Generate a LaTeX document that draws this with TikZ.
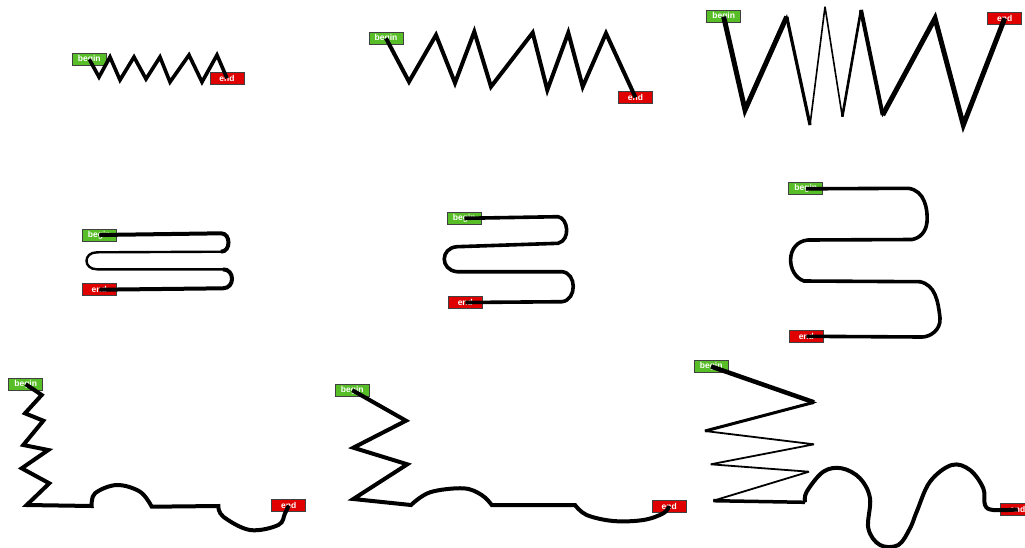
\documentclass[tikz,border=0pt]{standalone}
\usepackage{fontspec}
\setsansfont{Liberation Sans}
\definecolor{bgreen}{RGB}{88,190,40}
\definecolor{ered}{RGB}{224,0,0}
\tikzset{
 lab/.style={draw=black!75, line width=1pt, minimum width=34pt, minimum height=12pt, inner sep=0pt, text=white, font=\sffamily\bfseries\fontsize{8.5}{9}\selectfont},
 beg/.style={lab, fill=bgreen},
 fin/.style={lab, fill=ered},
 wire/.style={line width=#1, line join=miter, draw=black},
}
\begin{document}
\begin{tikzpicture}[x=1pt,y=-1pt]
\useasboundingbox (0,0) rectangle (1025,547);
% labels
\node[beg] (b1) at (89.3,59.3) {begin};
\node[fin] (e1) at (227,78.3) {end};
\node[beg] (b2) at (386,38.3) {begin};
\node[fin] (e2) at (635.5,97.5) {end};
\node[beg] (b3) at (723.7,16.7) {begin};
\node[fin] (e3) at (1004.7,18.3) {end};
\node[beg] (b4) at (99.3,235) {begin};
\node[fin] (e4) at (99.3,289.7) {end};
\node[beg] (b5) at (464.3,218.3) {begin};
\node[fin] (e5) at (465.3,302.5) {end};
\node[beg] (b6) at (805.8,188.8) {begin};
\node[fin] (e6) at (806.3,336.3) {end};
\node[beg] (b7) at (25.7,384.2) {begin};
\node[fin] (e7) at (288.7,505.5) {end};
\node[beg] (b8) at (352.3,390.2) {begin};
\node[fin] (e8) at (669.2,506) {end};
\node[beg] (b9) at (711.2,366.5) {begin};
\node[fin] (e9) at (1017.7,509.5) {end};
% panel 1
\draw[wire=3.6pt] (b1.center) -- (99,77) -- (110,57) -- (120,80) -- (134,57) -- (146,79) -- (160,57) -- (170,82) -- (189,55) -- (202,82) -- (217,55) -- (e1.center);
% panel 2
\draw[wire=4pt] (b2.center) -- (409,81.7) -- (436,35) -- (455,83) -- (474.3,31.7) -- (491,86.7) -- (532.7,32.7) -- (547.3,90) -- (568.3,32.7) -- (582.7,86.7) -- (606,33.3) -- (e2.center);
% panel 3
\coordinate (p1) at (745,110);
\coordinate (p2) at (786.7,16.7);
\coordinate (p3) at (810,125);
\coordinate (p4) at (825,6.7);
\coordinate (p5) at (842.3,116.7);
\coordinate (p6) at (861,10);
\coordinate (p7) at (882.7,115);
\coordinate (p8) at (935,18.3);
\coordinate (p9) at (963.3,125);
\draw[wire=1.6pt, miter limit=4] (b3.center) -- (p1) -- (p2) -- (p3) -- (p4) -- (p5) -- (p6) -- (p7) -- (p8) -- (p9) -- (e3.center);
\draw[wire=5pt] (b3.center) -- (p1) -- (p2);
\draw[wire=3.2pt] (p2) -- (p3);
\draw[wire=2.6pt] (p5) -- (p6);
\draw[wire=4pt] (p6) -- (p7);
\draw[wire=5pt] (p7) -- (p8) -- (p9) -- (e3.center);
% panel 4
\draw[wire=2.4pt] (b4.center) -- (221,233.3) .. controls (231,233.3) and (231,251.7) .. (221,251.7) -- (97,252.3) .. controls (83,252.3) and (83,269.3) .. (97,269.3) -- (223,269.3) .. controls (235,269.3) and (235,288.3) .. (223,288.3) -- (e4.center);
\draw[wire=4pt] (b4.center) -- (221,233.3) .. controls (231,233.3) and (231,251.7) .. (221,251.7);
\draw[wire=4pt] (223,269.3) .. controls (235,269.3) and (235,288.3) .. (223,288.3) -- (e4.center);
% panel 5
\draw[wire=3.6pt] (b5.center) -- (558,216.7) .. controls (568,218) and (571,240) .. (558,243.3) -- (457,246.7) .. controls (440,248) and (440,270) .. (457,271.7) -- (562,271.7) .. controls (577,273) and (577,300) .. (562,301.7) -- (e5.center);
% panel 6
\draw[wire=3.6pt] (b6.center) -- (908,188.3) .. controls (925,190) and (928,210) .. (927,222) .. controls (926,232) and (920,238) .. (912,239.5) -- (808,240) .. controls (785,242) and (786,275) .. (804,281) -- (920,281.7) .. controls (935,285) and (938,300) .. (940,318) .. controls (941,330) and (930,337) .. (922,337) -- (e6.center);
% panel 7
\draw[wire=4pt] (b7.center) -- (41.7,395) -- (25,413.3) -- (43.3,420.7) -- (23.3,445) -- (48.3,450) -- (21.7,468.3) -- (49.3,483.3) -- (26.7,505) -- (91.7,506)
 -- plot[smooth,tension=0.6] coordinates {(91.7,506) (95,493.3) (116.7,485) (140,491.7) (151.7,506.7)}
 -- (218.3,506)
 -- plot[smooth,tension=0.6] coordinates {(218.3,506) (223.3,516.7) (250,530) (278.3,525) (285,513.3) (e7.center)};
% panel 8
\draw[wire=4pt] (b8.center) -- (406,420.7) -- (353.3,447.7) -- (407.3,464.3) -- (353.3,499) -- (411,505)
 -- plot[smooth,tension=0.6] coordinates {(411,505) (430,492.3) (463.3,488.3) (481.7,495) (491.7,505)}
 -- (575,505)
 -- plot[smooth,tension=0.6] coordinates {(575,505) (586.7,515) (613.3,521) (643.3,520) (663.3,513.3) (e8.center)};
% panel 9
\coordinate (q1) at (814,402.3);
\coordinate (q2) at (705,431);
\coordinate (q3) at (814,444.3);
\coordinate (q4) at (710.7,464.3);
\coordinate (q5) at (809,471.7);
\coordinate (q6) at (713.3,500.7);
\coordinate (q7) at (805,502.3);
\draw[wire=1.8pt, miter limit=4] (b9.center) -- (q1) -- (q2) -- (q3) -- (q4) -- (q5) -- (q6) -- (q7);
\draw[wire=4.5pt] (b9.center) -- (q1);
\draw[wire=3pt] (q1) -- (q2);
\draw[wire=3.5pt] (q6) -- (q7);
\draw[wire=4pt] (q7) -- plot[smooth,tension=0.6] coordinates {(805,502.3) (806.7,491.7) (823.3,471.7) (841.7,468.3) (860,478.3) (870,498.3) (868.3,528.3) (880,545) (898.3,545) (910,528.3) (916.7,511.7) (930,481.7) (951.7,465) (970,470) (983.3,488.3) (985,505) (993.3,510) (e9.center)};
\end{tikzpicture}
\end{document}
